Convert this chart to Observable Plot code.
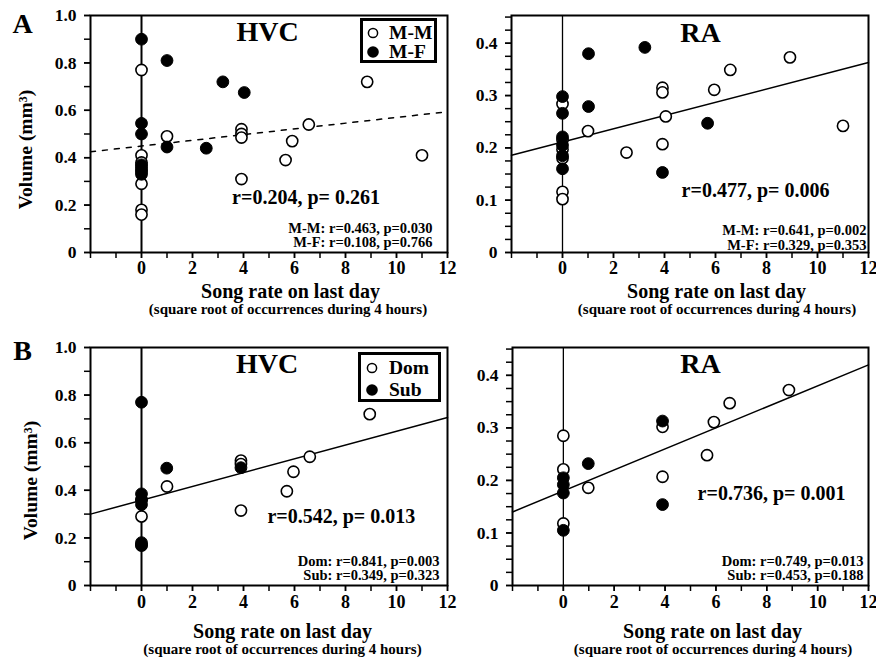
<!DOCTYPE html>
<html><head><meta charset="utf-8">
<script src="https://cdn.jsdelivr.net/npm/d3@7"></script>
<script src="https://cdn.jsdelivr.net/npm/@observablehq/plot@0.6"></script>
<style>
body{margin:0;background:#fff;}
#chart{position:relative;width:876px;height:660px;background:#fff;font-family:"Liberation Serif","Times New Roman",serif;font-weight:bold;color:#000;}
.panel{position:absolute;}
.legend{position:absolute;border:3px solid #000;box-sizing:border-box;background:#fff;}
.legend .row{position:absolute;font-size:19.5px;line-height:19px;white-space:nowrap;}
.legend svg{position:absolute;}
</style></head>
<body><div id="chart"></div>
<script>
// ---------- shared axes ----------
const xTicks = [-2,-1,0,1,2,3,4,5,6,7,8,9,10,11,12];
const xTickLabels = [0,2,4,6,8,10,12];
const fitX = [-2, 12];
const hvcYMinor = [0,0.1,0.2,0.3,0.4,0.5,0.6,0.7,0.8,0.9,1.0];
const hvcYMajor = [0,0.2,0.4,0.6,0.8,1.0];
const hvcYLabels = ["0","0.2","0.4","0.6","0.8","1.0"];
const raYMinor = [0,0.025,0.05,0.075,0.1,0.125,0.15,0.175,0.2,0.225,0.25,0.275,0.3,0.325,0.35,0.375,0.4,0.425,0.45];
const raYMajor = [0,0.1,0.2,0.3,0.4];
const raYLabels = ["0","0.1","0.2","0.3","0.4"];
const xTitle = "Song rate on last day";
const xSubtitle = "(square root of occurrences during 4 hours)";
const yTitle = "Volume (mm³)";

// ---------- Panel A: HVC ----------
const hvcA_mmX = [0,0,0,0,0,0,0,0, 1.0, 3.92,3.92,3.92,3.92, 5.65,5.91,6.56,8.85,11.0];
const hvcA_mmY = [0.77,0.41,0.38,0.36,0.34,0.29,0.18,0.16, 0.49, 0.52,0.50,0.485,0.31, 0.39,0.47,0.54,0.72,0.41];
const hvcA_mfX = [0,0,0,0,0,0, 1.0,1.0, 2.54, 3.19, 4.03];
const hvcA_mfY = [0.90,0.545,0.50,0.37,0.35,0.33, 0.81,0.445, 0.44, 0.72, 0.675];
const hvcA_fitY = [0.425, 0.594];
// ---------- Panel A: RA ----------
const raA_mmX = [0,0,0,0,0,0, 1.0, 2.51, 3.92,3.92,4.05,3.92, 5.95,6.58,8.92,11.0];
const raA_mmY = [0.284,0.215,0.197,0.180,0.116,0.102, 0.232, 0.191, 0.315,0.306,0.260,0.207, 0.311,0.349,0.373,0.242];
const raA_mfX = [0,0,0,0,0,0, 1.02,1.02, 3.23, 3.92, 5.69];
const raA_mfY = [0.298,0.266,0.221,0.205,0.185,0.160, 0.380,0.279, 0.392, 0.153, 0.247];
const raA_fitY = [0.186, 0.363];
// ---------- Panel B: HVC ----------
const hvcB_domX = [0,0,0, 1.0, 3.9,3.9,3.9, 5.7,5.96,6.6,8.95];
const hvcB_domY = [0.29,0.168,0.36, 0.416, 0.525,0.51,0.315, 0.396,0.478,0.541,0.72];
const hvcB_subX = [0,0,0,0,0,0, 0.99, 3.9];
const hvcB_subY = [0.77,0.385,0.36,0.34,0.18,0.17, 0.493, 0.495];
const hvcB_fitY = [0.30, 0.706];
// ---------- Panel B: RA ----------
const raB_domX = [0,0,0, 0.98, 3.9,3.9, 5.65,5.92,6.54,8.87];
const raB_domY = [0.285,0.221,0.118, 0.186, 0.302,0.207, 0.248,0.311,0.347,0.372];
const raB_subX = [0,0,0,0, 0.98, 3.9,3.9];
const raB_subY = [0.205,0.192,0.176,0.105, 0.232, 0.313,0.154];
const raB_fitY = [0.140, 0.42];

const legendA = ["M-M","M-F"];
const legendB = ["Dom","Sub"];
const statsMain = ["r=0.204, p= 0.261","r=0.477, p= 0.006","r=0.542, p= 0.013","r=0.736, p= 0.001"];
const statsSub = [
  ["M-M: r=0.463, p=0.030","M-F: r=0.108, p=0.766"],
  ["M-M: r=0.641, p=0.002","M-F: r=0.329, p=0.353"],
  ["Dom: r=0.841, p=0.003","Sub: r=0.349, p=0.323"],
  ["Dom: r=0.749, p=0.013","Sub: r=0.453, p=0.188"]
];

const FONT = "'Liberation Serif','Times New Roman',serif";
const pts = (xs, ys) => xs.map((x,i) => ({x, y: ys[i]}));

function makePanel(c) {
  const labelMap = new Map(c.yMajor.map((t,i) => [t, c.yLabels[i]]));
  const T = (s, o) => Plot.text([s], {text: d => d, fontWeight: "bold", fill: "#000", ...o});
  const marks = [
    Plot.ruleX([0], {stroke: "#000", strokeWidth: c.zeroW}),
    Plot.line(pts(fitX, c.fitY), {x: "x", y: "y", stroke: "#000", strokeWidth: 1.5, strokeDasharray: c.dashed ? "5,7" : null}),
    Plot.dot(pts(c.openX, c.openY), {x: "x", y: "y", r: 5.6, fill: "#fff", stroke: "#000", strokeWidth: 1.6}),
    Plot.dot(pts(c.fillX, c.fillY), {x: "x", y: "y", r: 5.9, fill: "#000", stroke: "#000", strokeWidth: 1}),
    Plot.axisX({ticks: xTicks, tickSize: 6, tickFormat: () => "", label: null, strokeWidth: 1.5}),
    Plot.axisX({ticks: xTickLabels, tickSize: 6, tickPadding: c.xPad, label: null, fontSize: 18, strokeWidth: 1.5, tickFormat: d => String(d)}),
    Plot.axisY({ticks: c.yMinor, tickSize: 6, tickFormat: () => "", label: null, strokeWidth: 1.5}),
    Plot.axisY({ticks: c.yMajor, tickSize: 6, tickPadding: 8, label: null, fontSize: 17.5, strokeWidth: 1.5, tickFormat: d => labelMap.get(d)}),
    Plot.frame({stroke: "#000", strokeWidth: 2}),
    T(c.title, {frameAnchor: "top", dx: c.titleDx, dy: c.titleDy, fontSize: 28, lineAnchor: "middle"}),
    T(c.stat, {frameAnchor: "bottom-right", textAnchor: "middle", dx: c.statDx, dy: c.statDy, fontSize: 20, lineAnchor: "middle"}),
    T(c.sub.join("\n"), {frameAnchor: "bottom-right", textAnchor: "end", dx: c.subDx, dy: c.subDy, fontSize: 14.5, lineHeight: 1.0, lineAnchor: "middle"}),
    T(xTitle, {frameAnchor: "bottom", dx: c.xtDx, dy: c.xtDy, fontSize: 20, lineAnchor: "middle"}),
    T(xSubtitle, {frameAnchor: "bottom", dx: c.xsDx, dy: c.xsDy, fontSize: 15, lineAnchor: "middle"})
  ];
  if (c.letter) {
    marks.push(T(c.letter, {frameAnchor: "top-left", textAnchor: "middle", dx: -68, dy: c.letterDy, fontSize: 28, lineAnchor: "middle"}));
    marks.push(T(yTitle, {frameAnchor: "left", rotate: -90, textAnchor: "middle", dx: c.ylDx, dy: c.ylDy, fontSize: 19.5, lineAnchor: "middle"}));
  }
  const svg = Plot.plot({
    width: c.width, height: c.height,
    marginLeft: c.ml, marginRight: c.mr, marginTop: c.mt, marginBottom: c.mb,
    x: {domain: [-2, 12]},
    y: {domain: c.yDomain},
    style: {fontFamily: FONT, fontWeight: "bold", background: "transparent", color: "#000", overflow: "visible", fontSize: "17px"},
    marks
  });
  const wrap = document.createElement("div");
  wrap.className = "panel";
  wrap.style.left = c.left + "px";
  wrap.style.top = c.top + "px";
  wrap.appendChild(svg);
  document.getElementById("chart").appendChild(wrap);
}

makePanel({left: 0, top: 0, width: 452, height: 320, ml: 90, mr: 5, mt: 15, mb: 68,
  yDomain: [0, 1], yMinor: hvcYMinor, yMajor: hvcYMajor, yLabels: hvcYLabels,
  openX: hvcA_mmX, openY: hvcA_mmY, fillX: hvcA_mfX, fillY: hvcA_mfY, fitY: hvcA_fitY, dashed: true, zeroW: 2,
  title: "HVC", titleDx: -1.5, titleDy: 16.7, stat: statsMain[0], statDx: -141.5, statDy: -55.3,
  sub: statsSub[0], subDx: -15, subDy: -17.3, xPad: 3,
  xtDx: 21.5, xtDy: 39.5, xsDx: 19, xsDy: 56.5, letter: "A", letterDy: 8.5, ylDx: -65, ylDy: 15.5});

makePanel({left: 440, top: 0, width: 436, height: 320, ml: 71, mr: 8, mt: 15, mb: 68,
  yDomain: [0, 0.453], yMinor: raYMinor, yMajor: raYMajor, yLabels: raYLabels,
  openX: raA_mmX, openY: raA_mmY, fillX: raA_mfX, fillY: raA_mfY, fitY: raA_fitY, dashed: false, zeroW: 1.3,
  title: "RA", titleDx: 10.5, titleDy: 18, stat: statsMain[1], statDx: -113, statDy: -62,
  sub: statsSub[1], subDx: -2, subDy: -14.8, xPad: 3,
  xtDx: 26.5, xtDy: 39.5, xsDx: 27, xsDy: 56.5});

makePanel({left: 0, top: 330, width: 452, height: 330, ml: 90, mr: 5, mt: 17, mb: 75,
  yDomain: [0, 1], yMinor: hvcYMinor, yMajor: hvcYMajor, yLabels: hvcYLabels,
  openX: hvcB_domX, openY: hvcB_domY, fillX: hvcB_subX, fillY: hvcB_subY, fitY: hvcB_fitY, dashed: false, zeroW: 2,
  title: "HVC", titleDx: -2, titleDy: 16.3, stat: statsMain[2], statDx: -106.2, statDy: -69,
  sub: statsSub[2], subDx: -8, subDy: -17.2, xPad: 4,
  xtDx: 13.5, xtDy: 46, xsDx: 13.5, xsDy: 64, letter: "B", letterDy: 4, ylDx: -60, ylDy: 14});

makePanel({left: 440, top: 330, width: 436, height: 330, ml: 72, mr: 8, mt: 17, mb: 75,
  yDomain: [0, 0.453], yMinor: raYMinor, yMajor: raYMajor, yLabels: raYLabels,
  openX: raB_domX, openY: raB_domY, fillX: raB_subX, fillY: raB_subY, fitY: raB_fitY, dashed: false, zeroW: 1.3,
  title: "RA", titleDx: 10, titleDy: 16.3, stat: statsMain[3], statDx: -97, statDy: -92.3,
  sub: statsSub[3], subDx: -5, subDy: -17.2, xPad: 4,
  xtDx: 22, xtDy: 46, xsDx: 22.5, xsDy: 64});

// ---------- legends ----------
function makeLegend(labels, box, rows, cx, tx) {
  const div = document.createElement("div");
  div.className = "legend";
  Object.assign(div.style, {left: box[0] + "px", top: box[1] + "px", width: box[2] + "px", height: box[3] + "px"});
  labels.forEach((lab, i) => {
    const svgNS = "http://www.w3.org/2000/svg";
    const s = document.createElementNS(svgNS, "svg");
    s.setAttribute("width", 14); s.setAttribute("height", 14);
    s.style.left = (cx - 7) + "px"; s.style.top = (rows[i] - 7) + "px";
    const c = document.createElementNS(svgNS, "circle");
    c.setAttribute("cx", 7); c.setAttribute("cy", 7);
    if (i === 0) { c.setAttribute("r", 4.6); c.setAttribute("fill", "#fff"); c.setAttribute("stroke", "#000"); c.setAttribute("stroke-width", 1.5); }
    else { c.setAttribute("r", 5.8); c.setAttribute("fill", "#000"); }
    s.appendChild(c);
    div.appendChild(s);
    const t = document.createElement("div");
    t.className = "row";
    t.textContent = lab;
    t.style.left = tx + "px";
    t.style.top = (rows[i] - 10) + "px";
    div.appendChild(t);
  });
  document.getElementById("chart").appendChild(div);
}
makeLegend(legendA, [360, 18, 77, 45], [12, 31], 10, 26);
makeLegend(legendB, [358, 352, 83, 50], [12.5, 35], 11, 28);
</script>
</body></html>
